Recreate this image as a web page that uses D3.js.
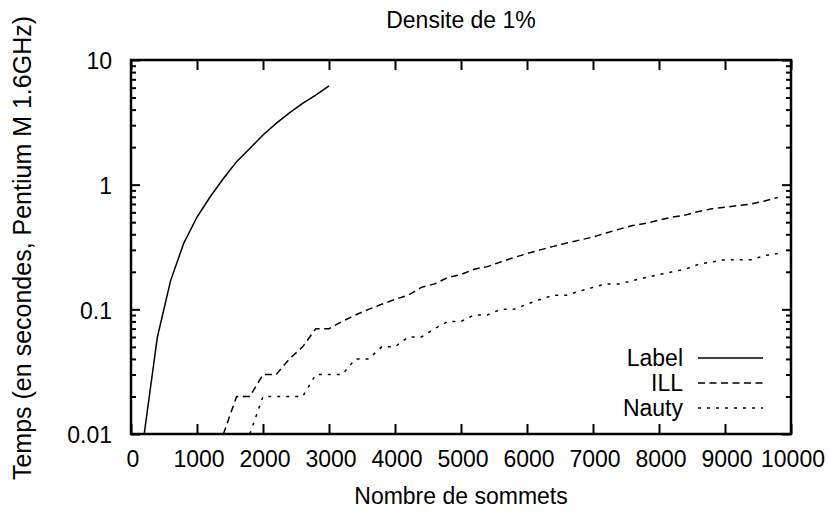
<!DOCTYPE html>
<html>
<head>
<meta charset="utf-8">
<script src="https://cdn.jsdelivr.net/npm/d3@7"></script>
<style>
  body { margin: 0; background: #fff; }
  svg { display: block; font-family: "Liberation Sans", Arial, sans-serif; }
</style>
</head>
<body>
<script>
// valeurs (temps en secondes)
var labelN = [200, 400, 600, 800, 1000, 1200, 1400, 1600, 1800, 2000, 2200, 2400, 2600, 2800, 3000];
var labelT = [0.01, 0.06, 0.17, 0.34, 0.55, 0.80, 1.12, 1.53, 1.95, 2.50, 3.10, 3.77, 4.49, 5.23, 6.20];

var illN = [1400, 1600, 1800, 2000, 2200, 2400, 2600, 2800, 3000, 3200, 3400, 3600, 3800, 4000, 4200,
            4400, 4600, 4800, 5000, 5200, 5400, 5600, 5800, 6000, 6200, 6400, 6600, 6800, 7000, 7200,
            7400, 7600, 7800, 8000, 8200, 8400, 8600, 8800, 9000, 9200, 9400, 9600, 9800];
var illT = [0.01, 0.02, 0.02, 0.03, 0.03, 0.04, 0.05, 0.07, 0.07, 0.08, 0.09, 0.10, 0.11, 0.12, 0.13,
            0.15, 0.16, 0.18, 0.19, 0.21, 0.22, 0.24, 0.26, 0.28, 0.30, 0.32, 0.34, 0.36, 0.38, 0.41,
            0.44, 0.47, 0.49, 0.52, 0.55, 0.57, 0.61, 0.64, 0.66, 0.68, 0.70, 0.74, 0.79];

var nautyN = [1800, 2000, 2200, 2400, 2600, 2800, 3000, 3200, 3400, 3600, 3800, 4000, 4200, 4400,
              4600, 4800, 5000, 5200, 5400, 5600, 5800, 6000, 6200, 6400, 6600, 6800, 7000, 7200,
              7400, 7600, 7800, 8000, 8200, 8400, 8600, 8800, 9000, 9200, 9400, 9600, 9800];
var nautyT = [0.01, 0.02, 0.02, 0.02, 0.02, 0.03, 0.03, 0.03, 0.04, 0.04, 0.05, 0.05, 0.06, 0.06,
              0.07, 0.08, 0.08, 0.09, 0.09, 0.10, 0.10, 0.11, 0.12, 0.13, 0.13, 0.14, 0.15, 0.16,
              0.16, 0.17, 0.18, 0.19, 0.20, 0.21, 0.23, 0.24, 0.25, 0.25, 0.25, 0.27, 0.28];

var xTicks = [0, 1000, 2000, 3000, 4000, 5000, 6000, 7000, 8000, 9000, 10000];
var yTicks = [0.01, 0.1, 1, 10];
var yTickLabels = ["0.01", "0.1", "1", "10"];

var series = [
    { name: "Label", n: labelN, t: labelT, dash: null },
    { name: "ILL", n: illN, t: illT, dash: "7,4.5" },
    { name: "Nauty", n: nautyN, t: nautyT, dash: "3,6" }
];

var width = 829, height = 514;
var margin = { top: 60, right: 38, bottom: 80, left: 131 },
    plotW = width - margin.left - margin.right,
    plotH = height - margin.top - margin.bottom;

var svg = d3.select("body").append("svg")
    .attr("width", width)
    .attr("height", height);

var g = svg.append("g")
    .attr("transform", "translate(" + margin.left + "," + margin.top + ")");

var x = d3.scaleLinear().domain([0, 10000]).range([0, plotW]);
var y = d3.scaleLog().domain([0.01, 10]).range([plotH, 0]);

var minorY = y.ticks().filter(function (d) { return yTicks.indexOf(d) < 0; });

function styleAxis(sel) {
    sel.select(".domain").remove();
    sel.selectAll("line").attr("stroke", "#000").attr("stroke-width", 2);
    sel.selectAll("text")
        .attr("fill", "#000")
        .style("font-size", "23px")
        .style("font-family", "'Liberation Sans', Arial, sans-serif");
}

// axe du bas
g.append("g")
    .attr("transform", "translate(0," + plotH + ")")
    .call(d3.axisBottom(x).tickValues(xTicks).tickSize(-10).tickPadding(19).tickFormat(d3.format("d")))
    .call(styleAxis)
    .selectAll("text").attr("dy", "0.62em").attr("dx", 1.5);

// axe du haut (graduations seules)
g.append("g")
    .call(d3.axisTop(x).tickValues(xTicks).tickSize(-10).tickFormat(""))
    .call(styleAxis);

// axe gauche
g.append("g")
    .call(d3.axisLeft(y).tickValues(yTicks).tickSize(-9).tickPadding(19)
        .tickFormat(function (d, i) { return yTickLabels[i]; }))
    .call(styleAxis)
    .selectAll("text").attr("dy", "0.38em");
g.append("g")
    .call(d3.axisLeft(y).tickValues(minorY).tickSize(-5).tickFormat(""))
    .call(styleAxis);

// axe droit
g.append("g")
    .attr("transform", "translate(" + plotW + ",0)")
    .call(d3.axisRight(y).tickValues(yTicks).tickSize(-9).tickFormat(""))
    .call(styleAxis);
g.append("g")
    .attr("transform", "translate(" + plotW + ",0)")
    .call(d3.axisRight(y).tickValues(minorY).tickSize(-5).tickFormat(""))
    .call(styleAxis);

// cadre
g.append("rect")
    .attr("width", plotW)
    .attr("height", plotH)
    .attr("fill", "none")
    .attr("stroke", "#000")
    .attr("stroke-width", 2.5);

var line = d3.line()
    .x(function (d) { return x(d[0]); })
    .y(function (d) { return y(d[1]); });

g.selectAll(".serie")
    .data(series)
    .enter().append("path")
    .attr("class", "serie")
    .attr("d", function (s) { return line(d3.zip(s.n, s.t)); })
    .attr("fill", "none")
    .attr("stroke", "#000")
    .attr("stroke-width", 1.5)
    .attr("stroke-dasharray", function (s) { return s.dash; });

// legende
var legend = svg.append("g").attr("transform", "translate(683,358)");
var items = legend.selectAll("g")
    .data(series)
    .enter().append("g")
    .attr("transform", function (d, i) { return "translate(0," + i * 25 + ")"; });
items.append("text")
    .attr("x", 0)
    .attr("y", 8)
    .attr("text-anchor", "end")
    .style("font-size", "23px")
    .text(function (d) { return d.name; });
items.append("line")
    .attr("x1", 15)
    .attr("x2", 80)
    .attr("stroke", "#000")
    .attr("stroke-width", 1.5)
    .attr("stroke-dasharray", function (d) { return d.dash; });

// titres
svg.append("text")
    .attr("x", margin.left + plotW / 2)
    .attr("y", 28)
    .attr("text-anchor", "middle")
    .style("font-size", "23px")
    .text("Densite de 1%");

svg.append("text")
    .attr("x", margin.left + plotW / 2)
    .attr("y", 504)
    .attr("text-anchor", "middle")
    .style("font-size", "23px")
    .text("Nombre de sommets");

svg.append("text")
    .attr("transform", "translate(31," + 248 + ") rotate(-90)")
    .attr("text-anchor", "middle")
    .style("font-size", "25px")
    .text("Temps (en secondes, Pentium M 1.6GHz)");
</script>
</body>
</html>
